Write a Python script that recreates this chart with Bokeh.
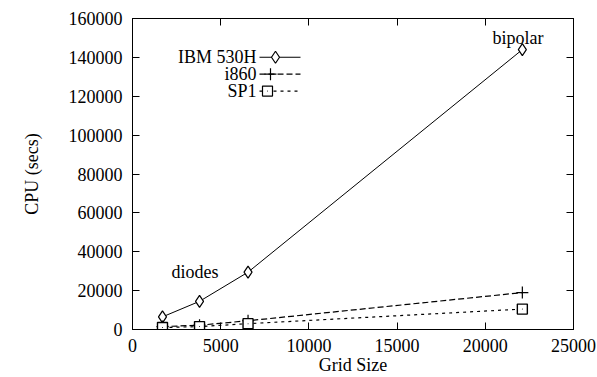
from bokeh.plotting import figure
from bokeh.models import Range1d, LinearAxis, Label, FixedTicker, BasicTickFormatter
from bokeh.embed import file_html
from bokeh.resources import INLINE

grid_size = [1700, 3800, 6550, 22100]
ibm_530h = [6500, 14500, 29500, 144000]
i860 = [1500, 2200, 4500, 19000]
sp1 = [1000, 1500, 3000, 10500]
series_names = ["IBM 530H", "i860", "SP1"]
x_ticks = [0, 5000, 10000, 15000, 20000, 25000]
y_ticks = [0, 20000, 40000, 60000, 80000, 100000, 120000, 140000, 160000]

FONT = "Liberation Serif"
FS = "18px"
W, H = 597, 377
L, R, T, B = 132, 573, 18, 331
XMAX, YMAX = 25000, 160000

def px_x(px):
    return (px - L) / (R - L) * XMAX

def px_y(py):
    return (B - py) / (B - T) * YMAX

p = figure(width=W, height=H, output_backend="svg", toolbar_location=None,
           x_range=Range1d(0, XMAX), y_range=Range1d(0, YMAX),
           min_border_left=L, min_border_right=W - R, min_border_top=T,
           min_border_bottom=H - B)
p.xgrid.visible = False
p.ygrid.visible = False
p.outline_line_color = "black"
p.outline_line_width = 1
p.background_fill_color = "white"
p.border_fill_color = "white"

for ax in p.xaxis:
    ax.ticker = FixedTicker(ticks=x_ticks)
    ax.axis_label = "Grid Size"
    ax.major_label_standoff = 9
    ax.axis_label_standoff = 0
for ax in p.yaxis:
    ax.ticker = FixedTicker(ticks=y_ticks)
    ax.axis_label = "CPU (secs)"
    ax.major_label_standoff = 10
    ax.axis_label_standoff = 24

for ax in list(p.xaxis) + list(p.yaxis):
    ax.formatter = BasicTickFormatter(use_scientific=False)
    ax.major_tick_in = 7
    ax.major_tick_out = 0
    ax.minor_tick_line_color = None
    ax.axis_line_color = "black"
    ax.major_tick_line_color = "black"
    ax.major_label_text_font = FONT
    ax.major_label_text_font_size = FS
    ax.major_label_text_color = "black"
    ax.axis_label_text_font = FONT
    ax.axis_label_text_font_size = FS
    ax.axis_label_text_font_style = "normal"
    ax.axis_label_text_color = "black"

top = LinearAxis(ticker=FixedTicker(ticks=x_ticks),
                 major_label_overrides={t: "" for t in x_ticks},
                 major_label_standoff=0, major_tick_in=7, major_tick_out=0,
                 minor_tick_line_color=None)
right = LinearAxis(ticker=FixedTicker(ticks=y_ticks),
                   major_label_overrides={t: "" for t in y_ticks},
                   major_label_standoff=0, major_tick_in=7, major_tick_out=0,
                   minor_tick_line_color=None)
p.add_layout(top, "above")
p.add_layout(right, "right")

# series
p.line(grid_size, ibm_530h, line_color="black", line_width=1)
p.scatter(grid_size, ibm_530h, marker="diamond", size=12, fill_color="white",
          line_color="black", line_width=1.2)
p.line(grid_size, i860, line_color="black", line_width=1.2, line_dash="6 3")
p.scatter(grid_size, i860, marker="cross", size=12, line_color="black", line_width=1.2)
p.line(grid_size, sp1, line_color="black", line_width=1.2, line_dash="3 4")
p.scatter(grid_size, sp1, marker="square", size=10, fill_color="white",
          line_color="black", line_width=1.4)
p.scatter(grid_size, sp1, marker="dot", size=4, line_color="black")

# annotations
p.add_layout(Label(x=px_x(492), y=px_y(38), text="bipolar", text_font=FONT,
                   text_font_size=FS, text_baseline="middle", text_color="black"))
p.add_layout(Label(x=px_x(171), y=px_y(273), text="diodes", text_font=FONT,
                   text_font_size=FS, text_baseline="middle", text_color="black"))

# legend (text, then sample to its right)
leg_y = [57, 74, 91]
dashes = ["solid", "6 3", "3 4"]
markers = ["diamond", "cross", "square"]
sizes = [12, 12, 10]
mx = [275, 270, 267]
for name, yy, d, m, s, xx in zip(series_names, leg_y, dashes, markers, sizes, mx):
    p.add_layout(Label(x=px_x(256), y=px_y(yy), text=name, text_font=FONT,
                       text_font_size=FS, text_align="right", text_baseline="middle",
                       text_color="black"))
    p.line([px_x(259), px_x(300)], [px_y(yy), px_y(yy)], line_color="black",
           line_width=1.2, line_dash=d)
    p.scatter([px_x(xx)], [px_y(yy)], marker=m, size=s,
              fill_color="white", line_color="black", line_width=1.2)
    if m == "square":
        p.scatter([px_x(xx)], [px_y(yy)], marker="dot", size=4, line_color="black")

open("out.html", "w").write(file_html(p, INLINE))
